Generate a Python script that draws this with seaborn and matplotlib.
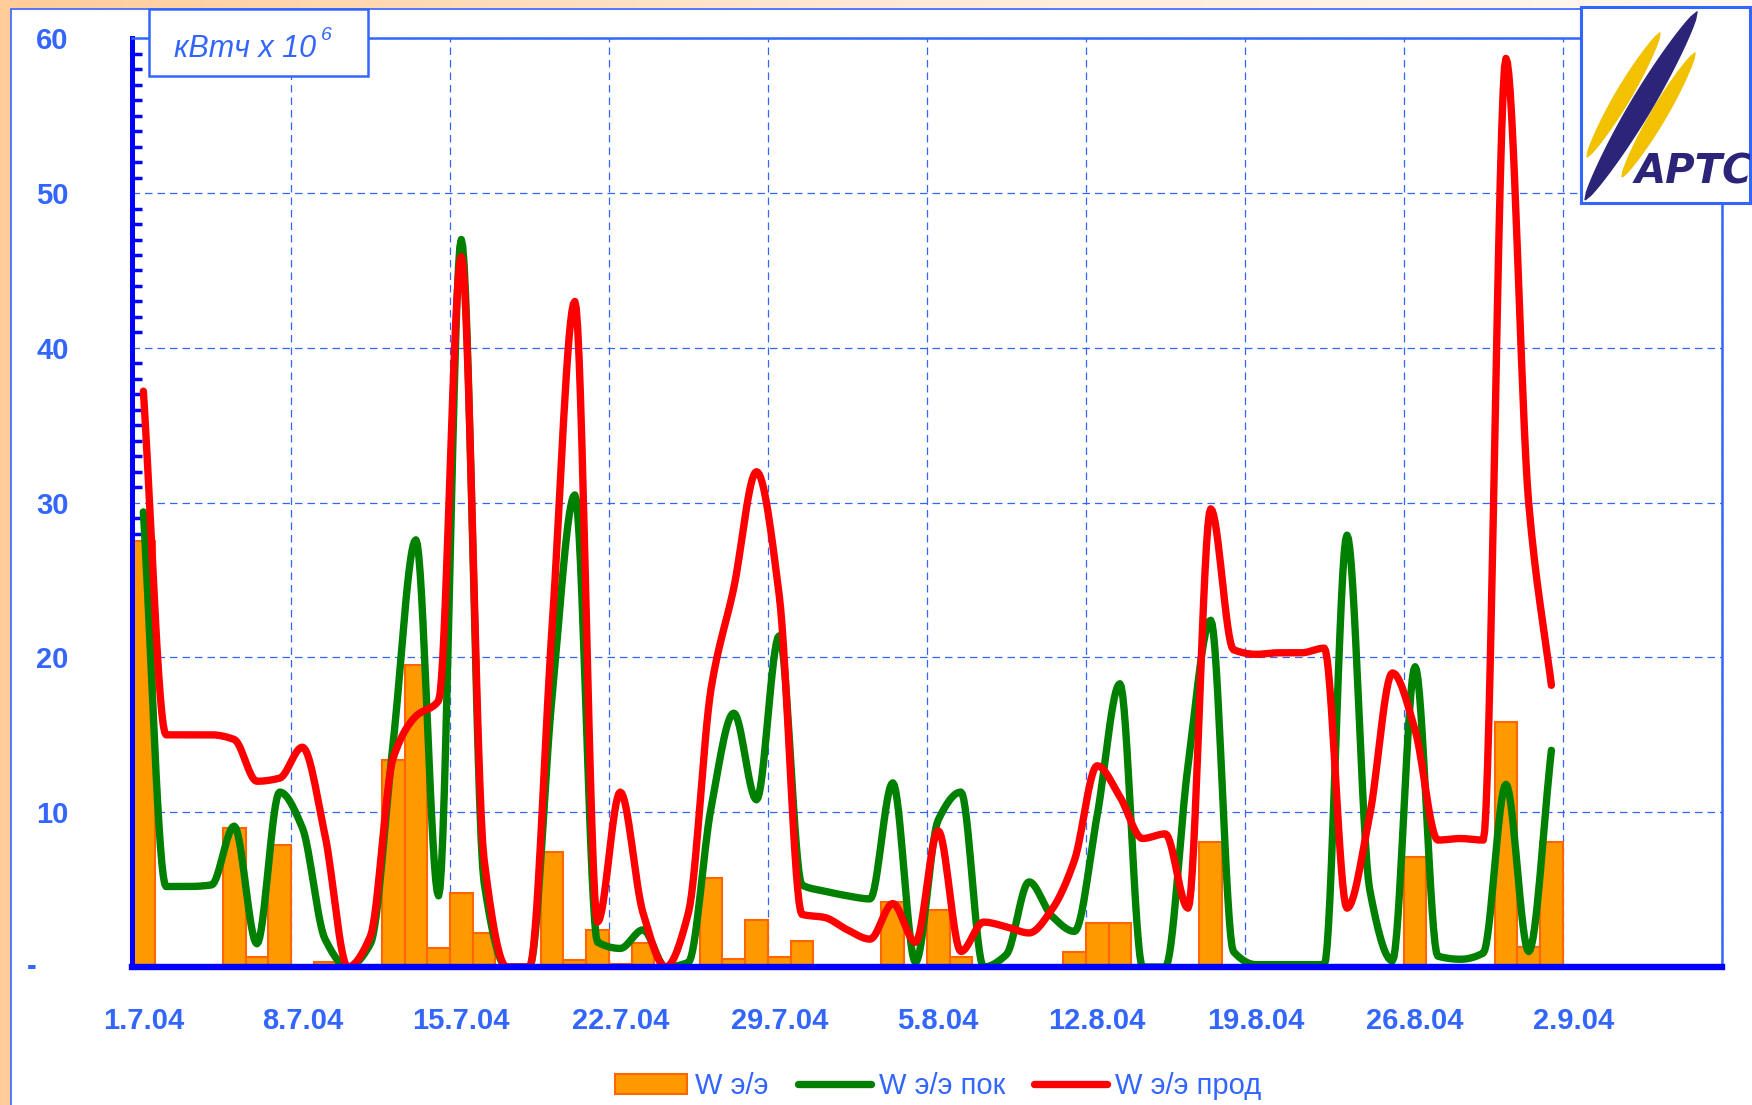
import numpy as np
import pandas as pd
import matplotlib
matplotlib.use('Agg')
import matplotlib.pyplot as plt
import seaborn as sns
from matplotlib import font_manager
from matplotlib.patches import Rectangle, Polygon, Patch
from matplotlib.lines import Line2D
from matplotlib.ticker import FixedLocator, MultipleLocator
from matplotlib.colors import LinearSegmentedColormap

# daily values 1.7.04 .. 1.9.04, kWh x 10^6
w_total = [27.5, 0, 0, 0, 9.0, 0.65, 7.9, 0, 0.35, 0,
           0, 13.4, 19.5, 1.2, 4.75, 2.2, 0, 0, 7.45, 0.45,
           2.4, 0.2, 1.55, 0, 0, 5.75, 0.5, 3.05, 0.65, 1.7,
           0, 0, 0, 4.2, 0, 3.7, 0.65, 0, 0, 0,
           0, 1.0, 2.85, 2.85, 0, 0, 0, 8.1, 0, 0,
           0, 0, 0, 0.15, 0, 0, 7.1, 0, 0, 0,
           15.8, 1.3, 8.1]
w_buy = [29.4, 5.2, 5.2, 5.3, 9.1, 1.5, 11.3, 9.0, 1.8, 0,
         1.5, 14.5, 27.6, 4.6, 47.0, 5.5, 0, 0, 17.5, 30.5,
         1.6, 1.2, 2.4, 0, 0.3, 10.3, 16.4, 10.8, 21.4, 5.3,
         4.9, 4.6, 4.4, 11.9, 0.3, 9.5, 11.3, 0, 0.8, 5.5,
         3.3, 2.3, 9.8, 18.3, 0, 0, 13.0, 22.4, 1.0, 0.15,
         0.15, 0.15, 0.15, 27.9, 5.0, 0.4, 19.4, 0.7, 0.5, 0.9,
         11.8, 1.0, 14.0]
w_sell = [37.2, 15.0, 15.0, 15.0, 14.7, 12.0, 12.2, 14.2, 8.5, 0,
          2.0, 13.5, 16.2, 17.2, 45.9, 7.0, 0, 0, 22.0, 43.0,
          2.9, 11.3, 3.5, 0, 3.5, 18.0, 24.5, 32.0, 24.0, 3.4,
          3.2, 2.4, 1.8, 4.1, 1.6, 8.8, 1.0, 2.9, 2.6, 2.2,
          3.7, 6.9, 13.0, 11.0, 8.3, 8.6, 3.8, 29.6, 20.5, 20.2,
          20.3, 20.3, 20.6, 3.8, 9.8, 19.0, 15.3, 8.2, 8.3, 8.2,
          58.7, 30.0, 18.2]
week_labels = ['1.7.04', '8.7.04', '15.7.04', '22.7.04', '29.7.04',
               '5.8.04', '12.8.04', '19.8.04', '26.8.04', '2.9.04']
y_labels = ['', '10', '20', '30', '40', '50', '60']
legend_labels = ['W э/э', 'W э/э пок', 'W э/э прод']

installed = {f.name for f in font_manager.fontManager.ttflist}
narrow = next((f for f in ['Liberation Sans Narrow', 'DejaVu Sans Condensed',
                           'Liberation Sans'] if f in installed), 'DejaVu Sans')

sns.set_theme(style='white')
plt.rcParams['font.family'] = [narrow, 'DejaVu Sans']

BLUE = '#0000FF'
LBLUE = '#3366FF'
ORANGE = '#FF9900'
ORANGE_EDGE = '#FF6600'
GREEN = '#008000'
RED = '#FF0000'
W, H = 1752, 1105
FS = 21

df = pd.DataFrame({'day': np.arange(len(w_total)) + 0.5,
                   'total': w_total, 'buy': w_buy, 'sell': w_sell})


def smooth_line(x, y, steps=16):
    # monotone cubic through every point, so peaks stay at the data values
    x = np.asarray(x, float)
    y = np.asarray(y, float)
    d = np.diff(y) / np.diff(x)
    m = np.zeros_like(y)
    m[0], m[-1] = d[0], d[-1]
    for i in range(1, len(y) - 1):
        if d[i - 1] * d[i] > 0:
            m[i] = 2 / (1 / d[i - 1] + 1 / d[i])
    t = np.linspace(0, 1, steps, endpoint=False)
    xs, ys = [], []
    for i in range(len(y) - 1):
        h = x[i + 1] - x[i]
        h00 = 2 * t ** 3 - 3 * t ** 2 + 1
        h10 = t ** 3 - 2 * t ** 2 + t
        h01 = -2 * t ** 3 + 3 * t ** 2
        h11 = t ** 3 - t ** 2
        xs.extend(x[i] + t * h)
        ys.extend(h00 * y[i] + h10 * h * m[i] + h01 * y[i + 1] + h11 * h * m[i + 1])
    xs.append(x[-1])
    ys.append(y[-1])
    return np.array(xs), np.array(ys)


fig = plt.figure(figsize=(W / 100, H / 100), dpi=100)

# peach gradient background
bg = fig.add_axes([0, 0, 1, 1], zorder=-10)
peach = LinearSegmentedColormap.from_list('peach', ['#FFCC99', '#FFE9D6', '#FFF9F3'])
bg.imshow(np.linspace(0, 1, 256)[None, :], aspect='auto', cmap=peach, extent=[0, 1, 0, 1])
bg.axis('off')

# white chart area with thin border
fig.add_artist(Rectangle((10.7 / W, -0.1), 1.2, 1.1 - 9.3 / H, transform=fig.transFigure,
                         facecolor='white', edgecolor=LBLUE, lw=1.2, zorder=-5))

ax = fig.add_axes([132 / W, 138 / H, (1721.7 - 132) / W, (967 - 38.3) / H])
ax.set_facecolor('white')

sns.barplot(data=df, x='day', y='total', native_scale=True, width=1, color=ORANGE,
            saturation=1, edgecolor=ORANGE_EDGE, linewidth=1.5, errorbar=None,
            ax=ax, zorder=2)

for col, color in (('buy', GREEN), ('sell', RED)):
    sx, sy = smooth_line(df['day'].values, df[col].values)
    sns.lineplot(x=sx, y=sy, ax=ax, color=color, lw=5.3, sort=False, estimator=None,
                 legend=False, zorder=3, solid_capstyle='round', solid_joinstyle='round')

ax.set_xlabel('')
ax.set_ylabel('')
ax.set_xlim(0, 70)
ax.set_ylim(0, 60)

ax.xaxis.set_major_locator(FixedLocator(np.arange(0, 71, 7)))
ax.set_xticks(np.arange(len(week_labels)) * 7 + 0.5, labels=week_labels, minor=True)
ax.tick_params(axis='x', which='major', direction='out', length=9, width=3,
               color=BLUE, labelbottom=False)
ax.tick_params(axis='x', which='minor', length=0, pad=29, labelsize=FS, labelcolor=LBLUE)

ax.set_yticks(np.arange(0, 61, 10), labels=y_labels)
ax.yaxis.set_minor_locator(MultipleLocator(1))
ax.tick_params(axis='y', which='major', direction='inout', length=19, width=3.5,
               color=BLUE, pad=36, labelsize=FS, labelcolor=LBLUE)
ax.tick_params(axis='y', which='minor', direction='in', length=7, width=2.5, color=BLUE, left=True)
for lbl in ax.get_xticklabels(minor=True) + ax.get_yticklabels():
    lbl.set_fontweight('bold')
ax.annotate('-', xy=(0, 0), xycoords=('axes fraction', 'data'), xytext=(-100, 0),
            textcoords='offset pixels', ha='center', va='center', fontsize=FS,
            fontweight='bold', color=LBLUE, annotation_clip=False)

ax.grid(which='major', axis='both', color=LBLUE, linestyle=(0, (6, 4)), lw=0.9)
ax.set_axisbelow(True)

ax.spines['left'].set_color(BLUE)
ax.spines['left'].set_linewidth(3.6)
ax.spines['bottom'].set_color(BLUE)
ax.spines['bottom'].set_linewidth(4.6)
for side in ('top', 'right'):
    ax.spines[side].set_color(LBLUE)
    ax.spines[side].set_linewidth(1.8)
for sp in ax.spines.values():
    sp.set_visible(True)
    sp.set_zorder(5)

# unit box
fig.add_artist(Rectangle((149 / W, 1 - 76 / H), (368 - 149) / W, (76 - 9.3) / H,
                         transform=fig.transFigure, facecolor='white', edgecolor=LBLUE,
                         lw=1.8, zorder=10))
fig.text(316 / W, 1 - 57 / H, 'кВтч х 10', ha='right', va='baseline', fontsize=22,
         style='italic', color=LBLUE, zorder=11)
fig.text(321 / W, 1 - 40 / H, '6', ha='left', va='baseline', fontsize=14,
         style='italic', color=LBLUE, zorder=11)

# logo
lax = fig.add_axes([1581 / W, 1 - 203 / H, 169 / W, 196 / H], zorder=12)
lax.set_xlim(0, 169)
lax.set_ylim(0, 196)
lax.set_xticks([])
lax.set_yticks([])
lax.set_facecolor('white')
for sp in lax.spines.values():
    sp.set_color(LBLUE)
    sp.set_linewidth(2.2)


def lens(p0, p1, half_w, n=30):
    p0, p1 = np.array(p0, float), np.array(p1, float)
    d = p1 - p0
    nrm = np.array([-d[1], d[0]]) / np.hypot(*d)
    s = np.linspace(0, 1, n)
    w = half_w * np.sin(np.pi * s) ** 0.6
    a = p0 + s[:, None] * d + w[:, None] * nrm
    b = p0 + s[:, None] * d - w[:, None] * nrm
    return np.vstack([a, b[::-1]])


lax.add_patch(Polygon(lens((6, 46), (79, 170), 7.5), color='#F2C200'))
lax.add_patch(Polygon(lens((41, 26), (114, 150), 7.5), color='#F2C200'))
lax.add_patch(Polygon(lens((4, 3), (116, 191), 10.5), color='#2B2478'))
lax.text(171, 20, 'АРТС', ha='right', va='baseline', fontsize=29, fontweight='bold',
         style='italic', family='DejaVu Sans', color='#2B2478', clip_on=True)

handles = [Patch(facecolor=ORANGE, edgecolor=ORANGE_EDGE, lw=1.5),
           Line2D([], [], color=GREEN, lw=5.3, solid_capstyle='round'),
           Line2D([], [], color=RED, lw=5.3, solid_capstyle='round')]
fig.legend(handles, legend_labels, loc='lower center', bbox_to_anchor=(938 / W, -0.014),
           ncol=3, frameon=False, fontsize=FS, labelcolor=LBLUE, handlelength=2.5,
           handletextpad=0.27, columnspacing=1.0, borderpad=0.2)

fig.savefig('out.png', dpi=100)
